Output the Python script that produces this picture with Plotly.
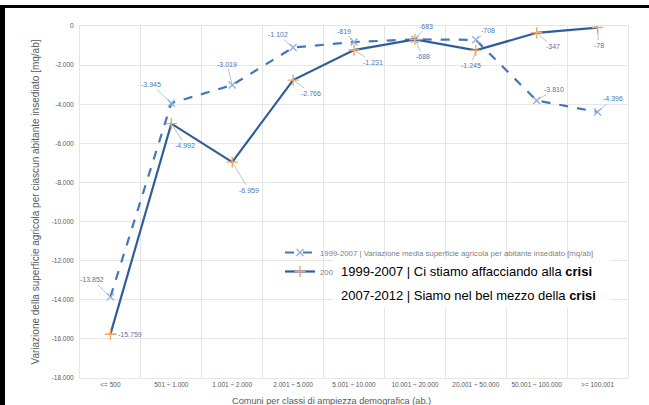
import plotly.graph_objects as go

categories = ["<= 500", "501 ÷ 1.000", "1.001 ÷ 2.000", "2.001 ÷ 5.000", "5.001 ÷ 10.000",
              "10.001 ÷ 20.000", "20.001 ÷ 50.000", "50.001 ÷ 100.000", ">= 100.001"]
series_1999_2007 = [-13852, -3945, -3019, -1102, -819, -683, -708, -3810, -4396]
series_2007_2012 = [-15759, -4992, -6959, -2766, -1231, -688, -1245, -347, -78]
y_tick_values = [0, -2000, -4000, -6000, -8000, -10000, -12000, -14000, -16000, -18000]
y_tick_labels = ["0", "-2.000", "-4.000", "-6.000", "-8.000", "-10.000", "-12.000",
                 "-14.000", "-16.000", "-18.000"]
name_1999 = "1999-2007 | Variazione media superficie agricola per abitante insediato [mq/ab]"
name_2007 = "2007-2012 | Variazione media superficie agricola per abitante insediato [mq/ab]"

# label offsets (pixels) for Excel-style data labels with leader lines
off_1999 = [(-18, -17), (-20, -19), (-5, -21), (-15, -13), (-10, -11), (11, -13), (12, -9), (17, -11), (15, -13)]
off_2007 = [(20, 0), (14, 22), (17, 28), (18, 13), (19, 12), (8, 17), (-5, 15), (16, 14), (1, 18)]

W, H = 649, 405
L, R, T, B = 80, 21, 26, 27
PW, PH = W - L - R, H - T - B


def px2x(px):
    return (px - L) / PW


def py2y(py):
    return (H - B - py) / PH


def fmt(v):
    return f"{v:,}".replace(",", ".")


FONT = "Liberation Sans, Arial, sans-serif"
GRAY = "#595959"
GRID = "#e6e6e6"
LABEL_BLUE = "#4f78b0"

fig = go.Figure()
fig.add_trace(go.Scatter(
    x=categories, y=series_1999_2007, name=name_1999, mode="lines+markers",
    line=dict(color="#4677b8", width=2.2, dash="dash"),
    marker=dict(symbol="x-thin", size=7, line=dict(width=1.4, color="#8db3e2")),
))
fig.add_trace(go.Scatter(
    x=categories, y=series_2007_2012, name=name_2007, mode="lines+markers",
    line=dict(color="#2f5d9a", width=2.2),
    marker=dict(symbol="cross-thin", size=8, line=dict(width=1.4, color="#f0a868")),
))

annotations = []
for vals, offs in ((series_1999_2007, off_1999), (series_2007_2012, off_2007)):
    for c, v, (dx, dy) in zip(categories, vals, offs):
        annotations.append(dict(
            x=c, y=v, xref="x", yref="y", text=fmt(v), showarrow=True,
            arrowhead=0, arrowwidth=0.7, arrowcolor="#a6a6a6", ax=dx, ay=dy,
            standoff=2, font=dict(family=FONT, size=7, color=LABEL_BLUE),
        ))

# x axis title (cut at bottom like the reference)
annotations.append(dict(
    x=px2x(331), y=py2y(401), xref="paper", yref="paper", showarrow=False,
    text="Comuni per classi di ampiezza demografica (ab.)",
    font=dict(family=FONT, size=9.2, color=GRAY), xanchor="center", yanchor="middle",
))

# white overlay box with custom legend text
annotations.append(dict(
    x=px2x(333), y=py2y(259), xref="paper", yref="paper", showarrow=False,
    text=" ", width=277, height=48, bgcolor="white", xanchor="left", yanchor="top",
    borderpad=0, borderwidth=0,
))
annotations.append(dict(
    x=px2x(339), y=py2y(271), xref="paper", yref="paper", showarrow=False,
    text="1999-2007 | Ci stiamo affacciando alla <b>crisi</b>",
    font=dict(family=FONT, size=13, color="black"), xanchor="left", yanchor="middle",
))
annotations.append(dict(
    x=px2x(339), y=py2y(295), xref="paper", yref="paper", showarrow=False,
    text="2007-2012 | Siamo nel bel mezzo della <b>crisi</b>",
    font=dict(family=FONT, size=13, color="black"), xanchor="left", yanchor="middle",
))

shapes = [
    # black frame (top and left) like the screenshot
    dict(type="rect", xref="paper", yref="paper", x0=px2x(0), x1=px2x(W), y0=py2y(8), y1=py2y(5),
         fillcolor="black", line=dict(width=0), layer="above"),
    dict(type="rect", xref="paper", yref="paper", x0=px2x(0), x1=px2x(5), y0=py2y(H), y1=py2y(5),
         fillcolor="black", line=dict(width=0), layer="above"),
]

fig.update_layout(
    width=W, height=H,
    margin=dict(l=L, r=R, t=T, b=B),
    paper_bgcolor="white", plot_bgcolor="white",
    font=dict(family=FONT, color=GRAY),
    showlegend=True,
    legend=dict(
        x=px2x(280), y=py2y(238), xanchor="left", yanchor="top",
        font=dict(family=FONT, size=7.8, color="#7f7f7f"),
        bgcolor="rgba(0,0,0,0)", itemwidth=30, tracegroupgap=0,
    ),
    annotations=annotations,
    shapes=shapes,
    xaxis=dict(
        type="category", range=[-0.5, len(categories) - 0.5], tickson="boundaries",
        showgrid=True, gridcolor=GRID, gridwidth=1, ticks="",
        showline=True, mirror=True, linecolor=GRID, linewidth=1,
        zeroline=False, tickfont=dict(family=FONT, size=6.5, color=GRAY),
    ),
    yaxis=dict(
        range=[-18000, 0], tickvals=y_tick_values, ticktext=y_tick_labels,
        showgrid=True, gridcolor=GRID, gridwidth=1, zeroline=False, ticks="",
        showline=True, mirror=True, linecolor=GRID, linewidth=1, ticklabelstandoff=4,
        tickfont=dict(family=FONT, size=6.5, color=GRAY),
        title=dict(text="Variazione della superficie agricola per ciascun abitante insediato [mq/ab]",
                   font=dict(family=FONT, size=10, color=GRAY), standoff=10),
    ),
)

fig.write_html("out.html")
